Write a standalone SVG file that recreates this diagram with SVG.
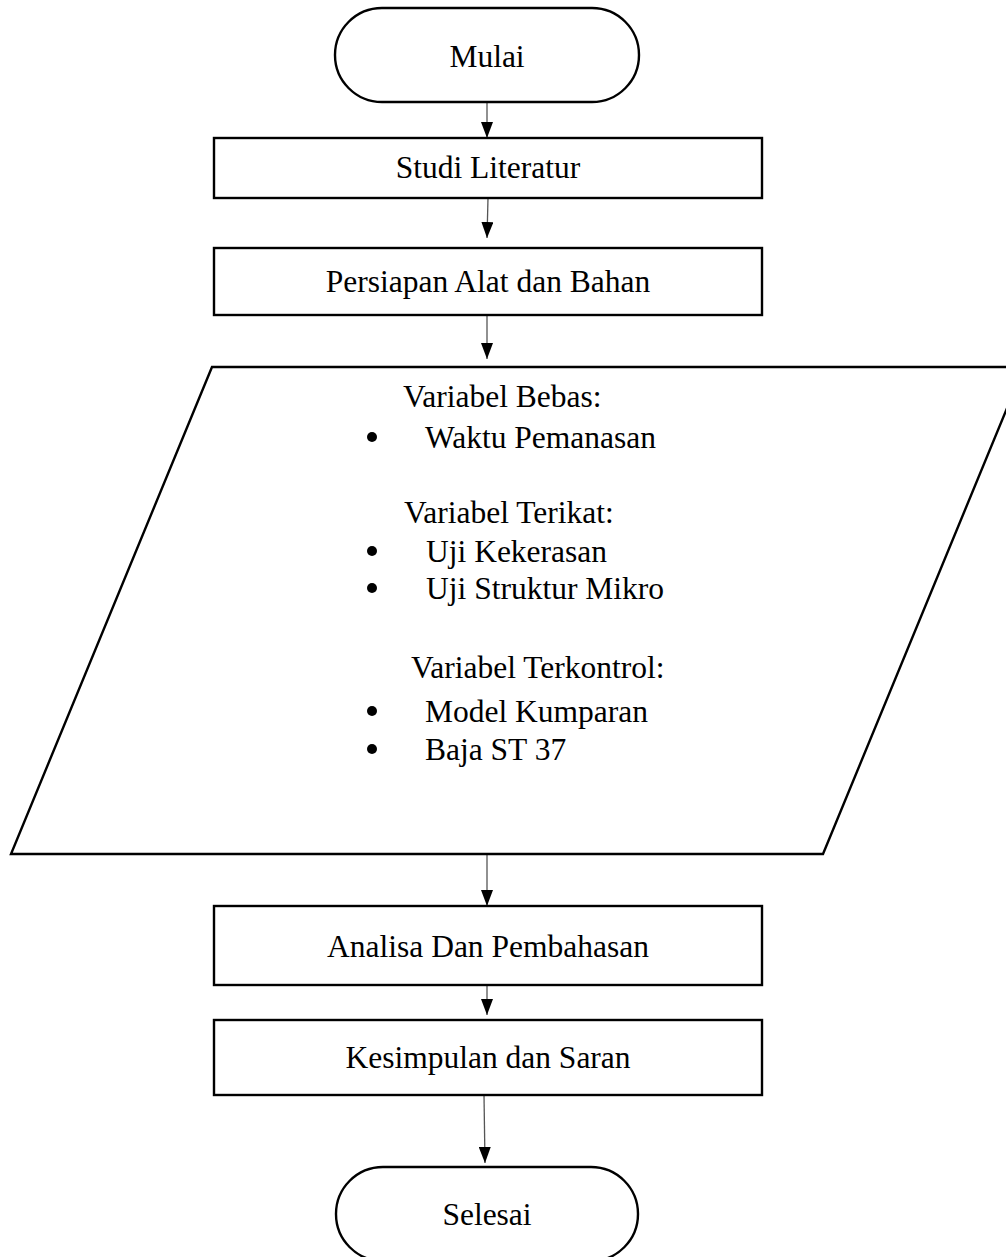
<svg xmlns="http://www.w3.org/2000/svg" width="1006" height="1257" viewBox="0 0 1006 1257">
<style>
.shape{fill:#fff;stroke:#000;stroke-width:2.4}
.t{font-family:"Liberation Serif","Times New Roman",serif;font-size:31.5px;fill:#000}
.c{text-anchor:middle}
.conn{stroke:#555;stroke-width:1.3;fill:none}
</style>
<defs>
<marker id="ah" viewBox="0 0 16 12" refX="16" refY="6" markerWidth="16" markerHeight="12" markerUnits="userSpaceOnUse" orient="auto">
<path d="M0,0 L16,6 L0,12 z" fill="#000"/>
</marker>
</defs>
<rect width="1006" height="1257" fill="#fff"/>
<g id="connectors">
<line class="conn" x1="487" y1="102" x2="487" y2="138" marker-end="url(#ah)"/>
<line class="conn" x1="488" y1="198" x2="487" y2="238" marker-end="url(#ah)"/>
<line class="conn" x1="487" y1="315" x2="487" y2="359" marker-end="url(#ah)"/>
<line class="conn" x1="487" y1="854" x2="487" y2="906" marker-end="url(#ah)"/>
<line class="conn" x1="487" y1="981" x2="487" y2="1015" marker-end="url(#ah)"/>
<line class="conn" x1="484" y1="1095" x2="485" y2="1163" marker-end="url(#ah)"/>
</g>
<g id="mulai">
<rect class="shape" x="335" y="8" width="304" height="94" rx="47" ry="47"/>
<text class="t c" x="487" y="67">Mulai</text>
</g>
<g id="studi">
<rect class="shape" x="214" y="138" width="548" height="60"/>
<text class="t c" x="488" y="178">Studi Literatur</text>
</g>
<g id="persiapan">
<rect class="shape" x="214" y="248" width="548" height="67"/>
<text class="t c" x="488" y="292">Persiapan Alat dan Bahan</text>
</g>
<g id="variabel">
<polygon class="shape" points="212,367 1024,367 823,854 11,854"/>
<text class="t" x="403" y="407">Variabel Bebas:</text>
<circle cx="372" cy="437" r="5"/>
<text class="t" x="425" y="448">Waktu Pemanasan</text>
<text class="t" x="404" y="523">Variabel Terikat:</text>
<circle cx="372" cy="551" r="5"/>
<text class="t" x="426" y="562">Uji Kekerasan</text>
<circle cx="372" cy="588" r="5"/>
<text class="t" x="426" y="599">Uji Struktur Mikro</text>
<text class="t" x="411" y="678">Variabel Terkontrol:</text>
<circle cx="372" cy="711" r="5"/>
<text class="t" x="425" y="722">Model Kumparan</text>
<circle cx="372" cy="749" r="5"/>
<text class="t" x="425" y="760">Baja ST 37</text>
</g>
<g id="analisa">
<rect class="shape" x="214" y="906" width="548" height="79"/>
<text class="t c" x="488" y="957">Analisa Dan Pembahasan</text>
</g>
<g id="kesimpulan">
<rect class="shape" x="214" y="1020" width="548" height="75"/>
<text class="t c" x="488" y="1068">Kesimpulan dan Saran</text>
</g>
<g id="selesai">
<rect class="shape" x="336" y="1167" width="302" height="94" rx="47" ry="47"/>
<text class="t c" x="487" y="1225">Selesai</text>
</g>
</svg>
